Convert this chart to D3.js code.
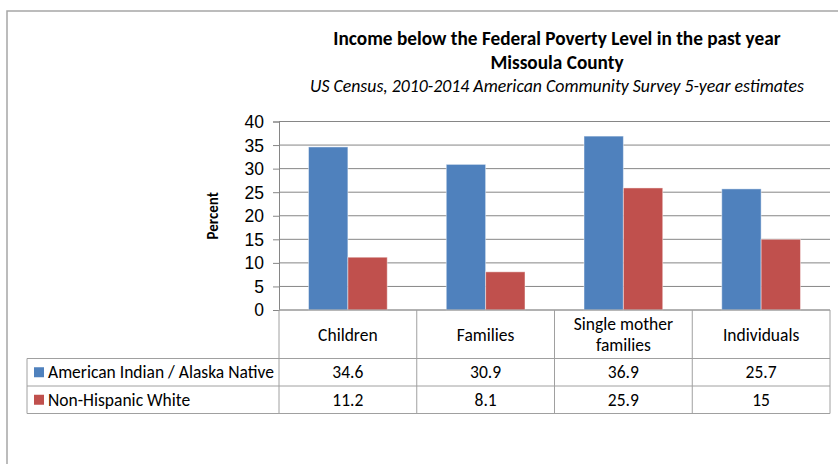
<!DOCTYPE html>
<html>
<head>
<meta charset="utf-8">
<script src="https://cdn.jsdelivr.net/npm/d3@7"></script>
<style>
  body { margin: 0; background: #fff; }
  svg { font-family: Carlito, Calibri, Lato, "Open Sans", sans-serif; }
</style>
</head>
<body>
<svg id="chart" width="838" height="464"></svg>
<script>
// data
const categories = ["Children", "Families", "Single mother families", "Individuals"];
const categoryLines = [["Children"], ["Families"], ["Single mother", "families"], ["Individuals"]];
const seriesNames = ["American Indian / Alaska Native", "Non-Hispanic White"];
const nativeValues = [34.6, 30.9, 36.9, 25.7];
const whiteValues = [11.2, 8.1, 25.9, 15];
const valueLabels = [["34.6", "30.9", "36.9", "25.7"], ["11.2", "8.1", "25.9", "15"]];
const yTicks = [0, 5, 10, 15, 20, 25, 30, 35, 40];
const colors = ["#4F81BD", "#C0504D"];

const svg = d3.select("#chart");

// outer frame (runs off the page on right/bottom)
svg.append("rect")
  .attr("x", 7).attr("y", 11)
  .attr("width", 900).attr("height", 500)
  .attr("fill", "none")
  .attr("stroke", "#A6A6A6")
  .attr("stroke-width", 1.5);

const plotLeft = 279, plotRight = 830, plotTop = 121.5, plotBottom = 310;

const x = d3.scaleBand().domain(categories).range([plotLeft, plotRight]);
const xs = d3.scaleBand().domain(seriesNames).range([0, x.bandwidth()]).paddingOuter(0.75);
const y = d3.scaleLinear().domain([0, 40]).range([plotBottom, plotTop]);

// titles
const titles = svg.append("g").attr("text-anchor", "middle");
titles.append("text").attr("x", 557).attr("y", 45)
  .attr("font-weight", "bold").attr("font-size", "19.3px")
  .text("Income below the Federal Poverty Level in the past year");
titles.append("text").attr("x", 557).attr("y", 69)
  .attr("font-weight", "bold").attr("font-size", "19.3px")
  .text("Missoula County");
titles.append("text").attr("x", 557).attr("y", 91.5)
  .attr("font-style", "italic").attr("font-size", "17.8px")
  .text("US Census, 2010-2014 American Community Survey 5-year estimates");

// y axis
const yAxis = svg.append("g")
  .attr("transform", `translate(${plotLeft},0)`)
  .call(d3.axisLeft(y).tickValues(yTicks).tickSize(6).tickPadding(9));
yAxis.select(".domain").attr("stroke", "#868686");
yAxis.selectAll(".tick line").attr("stroke", "#868686");
yAxis.selectAll(".tick text").attr("font-size", "17.5px").attr("fill", "#000")
  .attr("font-family", null).attr("dy", "0.34em");

// gridlines
svg.append("g").selectAll("line")
  .data(yTicks)
  .join("line")
  .attr("x1", plotLeft).attr("x2", plotRight)
  .attr("y1", d => y(d)).attr("y2", d => y(d))
  .attr("stroke", "#868686").attr("stroke-width", 1);

svg.append("text")
  .attr("transform", `translate(218, ${(plotTop + plotBottom) / 2}) rotate(-90)`)
  .attr("text-anchor", "middle")
  .attr("font-weight", "bold").attr("font-size", "15px")
  .text("Percent");

// bars
const series = [nativeValues, whiteValues];
series.forEach((vals, si) => {
  svg.append("g").selectAll("rect")
    .data(vals)
    .join("rect")
    .attr("x", (d, i) => x(categories[i]) + xs(seriesNames[si]))
    .attr("width", xs.bandwidth())
    .attr("y", d => y(d))
    .attr("height", d => y(0) - y(d))
    .attr("fill", colors[si])
    .attr("stroke", "rgba(255,255,255,0.45)")
    .attr("stroke-width", 1);
});

// data table
const tableLeft = 27, rowTop = [310, 358.5, 386], tableBottom = 413.5;
const grid = "#A0A0A0";
const table = svg.append("g").attr("stroke", grid).attr("stroke-width", 1).attr("fill", "none");

// horizontal lines
table.append("line").attr("x1", plotLeft).attr("x2", plotRight).attr("y1", rowTop[0]).attr("y2", rowTop[0]);
[rowTop[1], rowTop[2], tableBottom].forEach(yy => {
  table.append("line").attr("x1", tableLeft).attr("x2", plotRight).attr("y1", yy).attr("y2", yy);
});
// vertical lines
table.append("line").attr("x1", tableLeft).attr("x2", tableLeft).attr("y1", rowTop[1]).attr("y2", tableBottom);
categories.forEach(c => {
  table.append("line").attr("x1", x(c)).attr("x2", x(c)).attr("y1", rowTop[0]).attr("y2", tableBottom);
});
table.append("line").attr("x1", plotRight).attr("x2", plotRight).attr("y1", rowTop[0]).attr("y2", tableBottom);

// category labels
categories.forEach((c, i) => {
  const lines = categoryLines[i];
  const cy = (rowTop[0] + rowTop[1]) / 2;
  const t = svg.append("text")
    .attr("text-anchor", "middle")
    .attr("font-size", "17.5px");
  lines.forEach((ln, li) => {
    t.append("tspan")
      .attr("x", x(c) + x.bandwidth() / 2)
      .attr("y", cy + 6.5 + (li - (lines.length - 1) / 2) * 21)
      .text(ln);
  });
});

// series rows
seriesNames.forEach((s, si) => {
  const top = rowTop[si + 1];
  const bottom = si === 0 ? rowTop[2] : tableBottom;
  const cy = (top + bottom) / 2;
  svg.append("rect")
    .attr("x", 34).attr("y", cy - 5)
    .attr("width", 10).attr("height", 10)
    .attr("fill", colors[si]);
  svg.append("text")
    .attr("x", 48).attr("y", cy + 6)
    .attr("font-size", "17.5px")
    .text(s);
  svg.append("g").selectAll("text")
    .data(valueLabels[si])
    .join("text")
    .attr("x", (d, i) => x(categories[i]) + x.bandwidth() / 2)
    .attr("y", cy + 6)
    .attr("text-anchor", "middle")
    .attr("font-size", "17.5px")
    .text(d => d);
});
</script>
</body>
</html>
